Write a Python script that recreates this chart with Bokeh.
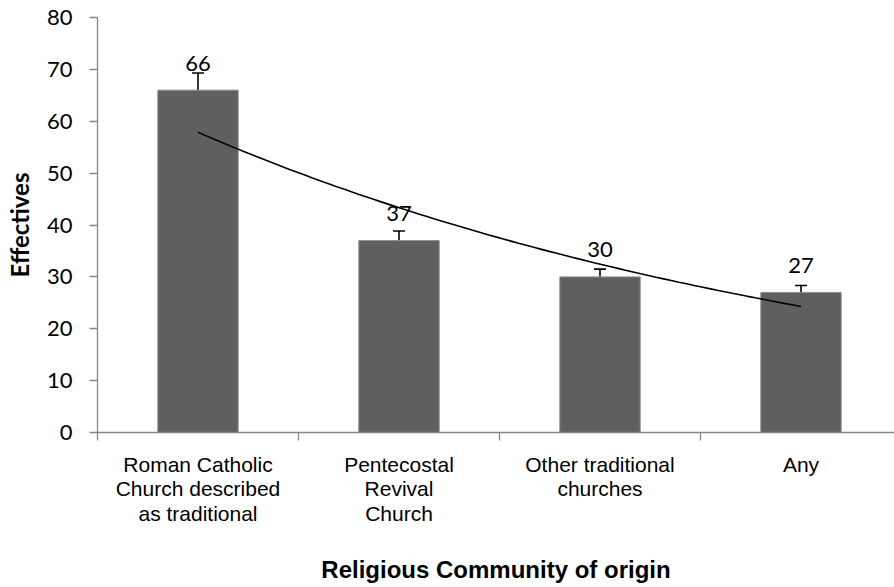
import numpy as np
from bokeh.plotting import figure
from bokeh.models import ColumnDataSource, Range1d, FixedTicker, Whisker, TeeHead
from bokeh.core.properties import value
from bokeh.embed import file_html
from bokeh.resources import INLINE

# ---- data ----
categories = [
    "Roman Catholic\nChurch described\nas traditional",
    "Pentecostal\nRevival\nChurch",
    "Other traditional\nchurches",
    "Any",
]
effectives = [66, 37, 30, 27]
error_amounts = [3.3, 1.85, 1.5, 1.35]
y_ticks = [0, 10, 20, 30, 40, 50, 60, 70, 80]
x_title = "Religious Community of origin"
y_title = "Effectives"

# ---- layout ----
W, H = 894, 587
LEFT, TOP, FRAME_H = 97, 17, 415
BOTTOM = H - TOP - FRAME_H
CAT_PX = 201.0  # pixel width of one category slot
frame_w = W - LEFT

n = len(categories)
centers = [i + 0.5 for i in range(n)]
src = ColumnDataSource(dict(
    x=centers,
    top=effectives,
    upper=[v + e for v, e in zip(effectives, error_amounts)],
    lower=[v - e for v, e in zip(effectives, error_amounts)],
    lbl=[str(v) for v in effectives],
))

p = figure(width=W, height=H, output_backend="svg", toolbar_location=None,
           x_range=Range1d(0, frame_w / CAT_PX), y_range=Range1d(0, 80),
           min_border_left=LEFT, min_border_right=0, min_border_top=TOP,
           min_border_bottom=BOTTOM)
p.outline_line_color = None
p.xgrid.visible = False
p.ygrid.visible = False
p.background_fill_color = "white"

p.vbar(x="x", top="top", width=0.4, source=src, fill_color="#5f5f5f",
       line_color="#8f8f8f", line_width=1)

# exponential trendline fitted to the bar values (as the spreadsheet did)
idx = np.arange(1, n + 1)
b, a = np.polyfit(idx, np.log(effectives), 1)
tx = np.linspace(1, n, 80)
ty = np.exp(a + b * tx)
p.line(tx - 0.5, ty, line_color="black", line_width=1.6)

w = Whisker(base="x", upper="upper", lower="lower", source=src,
            line_color="black", line_width=1.6,
            upper_head=TeeHead(size=12, line_color="black", line_width=1.6),
            lower_head=TeeHead(size=12, line_color="black", line_width=1.6))
p.add_layout(w)

p.text(x="x", y="top", text="lbl", source=src, text_align="center",
       text_baseline="alphabetic", y_offset=-27,
       text_font=value("Lato"), text_font_size="22px", text_color="black")

# y axis
ya = p.yaxis[0]
ya.ticker = FixedTicker(ticks=y_ticks)
ya.axis_line_color = "#868686"
ya.axis_line_width = 1.3
ya.major_tick_line_color = "#868686"
ya.major_tick_line_width = 1.3
ya.major_tick_out = 8
ya.major_tick_in = 0
ya.minor_tick_line_color = None
ya.major_label_text_font = "Lato"
ya.major_label_text_font_size = "22px"
ya.major_label_text_color = "black"
ya.major_label_standoff = 17
ya.axis_label = y_title
ya.axis_label_text_font = "Lato"
ya.axis_label_text_font_style = "bold"
ya.axis_label_text_font_size = "24px"
ya.axis_label_text_color = "black"
ya.axis_label_standoff = 10

# x axis
xa = p.xaxis[0]
xa.ticker = FixedTicker(ticks=centers, minor_ticks=list(range(n)))
xa.major_label_overrides = {c: lab for c, lab in zip(centers, categories)}
xa.axis_line_color = "#868686"
xa.axis_line_width = 1.3
xa.major_tick_line_color = None
xa.major_tick_out = 0
xa.major_tick_in = 0
xa.minor_tick_line_color = "#868686"
xa.minor_tick_line_width = 1.3
xa.minor_tick_out = 8
xa.minor_tick_in = 0
xa.major_label_text_font = "Liberation Sans"
xa.major_label_text_font_size = "21px"
xa.major_label_text_color = "black"
xa.major_label_text_line_height = 1.08
xa.major_label_standoff = 12
xa.axis_label = x_title
xa.axis_label_text_font = "Liberation Sans"
xa.axis_label_text_font_style = "bold"
xa.axis_label_text_font_size = "24px"
xa.axis_label_text_color = "black"
xa.axis_label_standoff = 28

open("out.html", "w").write(file_html(p, INLINE))
